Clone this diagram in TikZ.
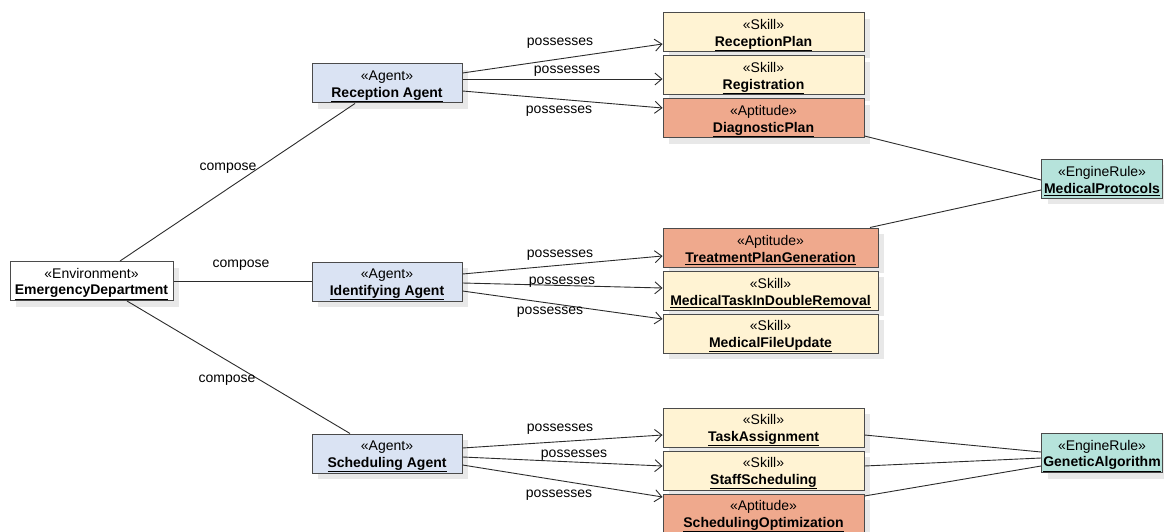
\documentclass[tikz,border=0pt]{standalone}
\usepackage{fontspec}
\setmainfont{Liberation Sans}
\usetikzlibrary{arrows.meta,shadows}

\definecolor{agentfill}{HTML}{DAE3F3}
\definecolor{skillfill}{HTML}{FFF3D3}
\definecolor{aptfill}{HTML}{EFA98D}
\definecolor{rulefill}{HTML}{B6E3DB}
\definecolor{edgecol}{HTML}{2B2B2B}

\tikzset{
    umlbox/.style={draw=edgecol!85, line width=1pt, align=center, minimum height=39pt,
        inner sep=0pt, font=\fontsize{14}{16.5}\selectfont,
        drop shadow={shadow xshift=6pt, shadow yshift=-6pt, fill=black!9, opacity=1}},
    envbox/.style={umlbox, fill=white},
    agentbox/.style={umlbox, fill=agentfill, minimum width=150pt},
    skillbox/.style={umlbox, fill=skillfill},
    aptbox/.style={umlbox, fill=aptfill},
    rulebox/.style={umlbox, fill=rulefill, minimum width=121pt},
    lbl/.style={font=\fontsize{14}{15}\selectfont, inner sep=0pt},
    assoc/.style={draw=edgecol, line width=0.9pt},
    has/.style={assoc, -{Straight Barb[length=7pt,width=12pt,line width=0.9pt]}},
}
\newcommand{\umltext}[2]{\rule{0pt}{15.5pt}\guillemotleft #1\guillemotright\\\underline{\textbf{#2}}}

\begin{document}
\begin{tikzpicture}[x=1pt,y=-1pt]
    \useasboundingbox (0,0) rectangle (1164,532);
    % environment and agents
    \node[envbox, minimum width=163pt] (ed) at (91.5,281) {\umltext{Environment}{EmergencyDepartment}};
    \node[agentbox] (ra) at (387,83.5) {\umltext{Agent}{Reception Agent}};
    \node[agentbox] (ia) at (387,281.5) {\umltext{Agent}{Identifying Agent}};
    \node[agentbox] (sa) at (387,453.5) {\umltext{Agent}{Scheduling Agent}};
    % skills and aptitudes
    \node[skillbox, minimum width=201pt] (rp) at (763.5,32.5) {\umltext{Skill}{ReceptionPlan}};
    \node[skillbox, minimum width=201pt] (rg) at (763.5,75.5) {\umltext{Skill}{Registration}};
    \node[aptbox, minimum width=201pt] (dp) at (763.5,118.5) {\umltext{Aptitude}{DiagnosticPlan}};
    \node[aptbox, minimum width=215pt] (tp) at (770.5,247.5) {\umltext{Aptitude}{TreatmentPlanGeneration}};
    \node[skillbox, minimum width=215pt] (mt) at (770.5,290.5) {\umltext{Skill}{MedicalTaskInDoubleRemoval}};
    \node[skillbox, minimum width=215pt] (mf) at (770.5,333.5) {\umltext{Skill}{MedicalFileUpdate}};
    \node[skillbox, minimum width=201pt] (ta) at (763.5,427.5) {\umltext{Skill}{TaskAssignment}};
    \node[skillbox, minimum width=201pt] (ss) at (763.5,470.5) {\umltext{Skill}{StaffScheduling}};
    \node[aptbox, minimum width=201pt] (so) at (763.5,513.5) {\umltext{Aptitude}{SchedulingOptimization}};
    % engine rules
    \node[rulebox] (mp) at (1102,178.5) {\umltext{EngineRule}{MedicalProtocols}};
    \node[rulebox] (ga) at (1102,453) {\umltext{EngineRule}{GeneticAlgorithm}};

    % compose
    \draw[assoc] ([xshift=28.5pt]ed.north) -- ([xshift=-32pt]ra.south);
    \draw[assoc] (ed.east) -- (ed.east -| ia.west);
    \draw[assoc] ([xshift=35.5pt]ed.south) -- ([xshift=-37pt]sa.north);
    \node[lbl] (c1) at (228,168) {compose};
    \node[lbl] (c2) at (241,265) {compose};
    \node[lbl] (c3) at (227,380) {compose};

    % possesses
    \draw[has] ([yshift=10.5pt]ra.east) -- ([yshift=-11.5pt]rp.west);
    \draw[has] ([yshift=4.5pt]ra.east) -- ([yshift=-3.5pt]rg.west);
    \draw[has] ([yshift=-7.5pt]ra.east) -- ([yshift=10.5pt]dp.west);
    \draw[has] ([yshift=7.5pt]ia.east) -- ([yshift=-8.5pt]tp.west);
    \draw[has] ([yshift=-1.5pt]ia.east) -- ([yshift=2.5pt]mt.west);
    \draw[has] ([yshift=-9.5pt]ia.east) -- ([yshift=14.5pt]mf.west);
    \draw[has] ([yshift=5.5pt]sa.east) -- ([yshift=-7.5pt]ta.west);
    \draw[has] ([yshift=-3.5pt]sa.east) -- ([yshift=4.5pt]ss.west);
    \draw[has] ([yshift=-11.5pt]sa.east) -- ([yshift=16.5pt]so.west);
    \node[lbl] (p1) at (560,43) {possesses};
    \node[lbl] (p2) at (567,71) {possesses};
    \node[lbl] (p3) at (559,111) {possesses};
    \node[lbl] (p4) at (560,255) {possesses};
    \node[lbl] (p5) at (562,282) {possesses};
    \node[lbl] (p6) at (550,312) {possesses};
    \node[lbl] (p7) at (560,429) {possesses};
    \node[lbl] (p8) at (574,455) {possesses};
    \node[lbl] (p9) at (559,495) {possesses};

    % engine rule links
    \draw[assoc] ([yshift=-17.5pt]dp.east) -- ([yshift=-1.5pt]mp.west);
    \draw[assoc] ([xshift=99.5pt]tp.north) -- ([yshift=-11.5pt]mp.west);
    \draw[assoc] ([yshift=-7.5pt]ta.east) -- ([yshift=1pt]ga.west);
    \draw[assoc] ([yshift=4.5pt]ss.east) -- ([yshift=-5pt]ga.west);
    \draw[assoc] ([yshift=17.5pt]so.east) -- ([yshift=-13pt]ga.west);
\end{tikzpicture}
\end{document}
